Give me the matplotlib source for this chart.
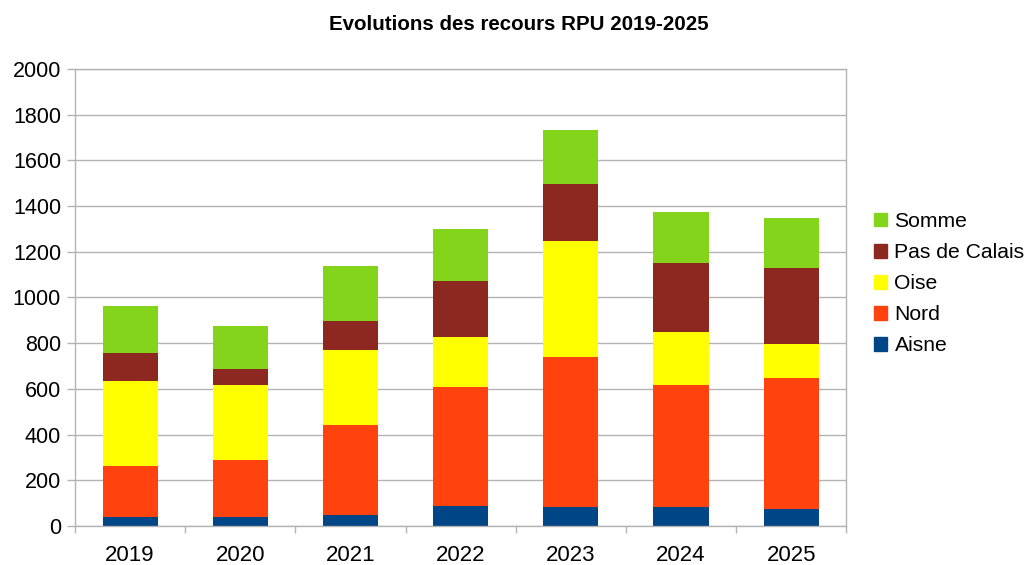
import numpy as np
import matplotlib
matplotlib.use("Agg")
import matplotlib.pyplot as plt
from matplotlib.patches import Patch

plt.rcParams['font.family'] = ['Liberation Sans', 'DejaVu Sans']

# data
years = ['2019', '2020', '2021', '2022', '2023', '2024', '2025']
aisne = [39, 39, 48, 89, 84, 84, 73]
nord = [222, 252, 396, 519, 655, 532, 575]
oise = [375, 328, 328, 217, 506, 233, 147]
pas_de_calais = [122, 70, 126, 249, 250, 304, 333]
somme = [206, 187, 240, 227, 239, 220, 221]

series = [('Aisne', aisne, '#004586'),
          ('Nord', nord, '#ff420e'),
          ('Oise', oise, '#ffff00'),
          ('Pas de Calais', pas_de_calais, '#8d2820'),
          ('Somme', somme, '#83d41b')]

fig = plt.figure(figsize=(10.27, 5.65), dpi=100)
ax = fig.add_axes([0.073, 0.069, 0.751, 0.809])

x = np.arange(len(years))
bottom = np.zeros(len(years))
for name, vals, col in series:
    ax.bar(x, vals, width=0.5, bottom=bottom, color=col, label=name, zorder=2)
    bottom += np.array(vals)

grid_col = '#b3b3b3'
ax.set_xlim(-0.5, len(years) - 0.5)
ax.set_ylim(0, 2000)
ax.set_yticks(range(0, 2001, 200))
ax.yaxis.grid(True, color=grid_col, linewidth=1, zorder=0)
ax.set_axisbelow(True)

ax.set_xticks(x)
ax.set_xticklabels(years)
ax.set_xticks(np.arange(-0.5, len(years), 1), minor=True)
ax.tick_params(axis='x', which='major', length=0, labelsize=16, pad=14)
ax.tick_params(axis='x', which='minor', length=5, color=grid_col, width=1)
ax.tick_params(axis='y', length=6, color=grid_col, width=1, labelsize=15.5, pad=4)
for s in ax.spines.values():
    s.set_color(grid_col)
    s.set_linewidth(1)

fig.text(0.505, 0.956, 'Evolutions des recours RPU 2019-2025', ha='center',
         va='center', fontsize=14.8, fontweight='bold')

handles = [Patch(color=col, label=name) for name, vals, col in reversed(series)]
ax.legend(handles=handles, loc='center left', bbox_to_anchor=(0.851, 0.498),
          bbox_transform=fig.transFigure, frameon=False, fontsize=15.2,
          handlelength=0.62, handleheight=0.62, handletextpad=0.35,
          labelspacing=0.57, borderpad=0, borderaxespad=0)

fig.savefig('out.png', dpi=100)
